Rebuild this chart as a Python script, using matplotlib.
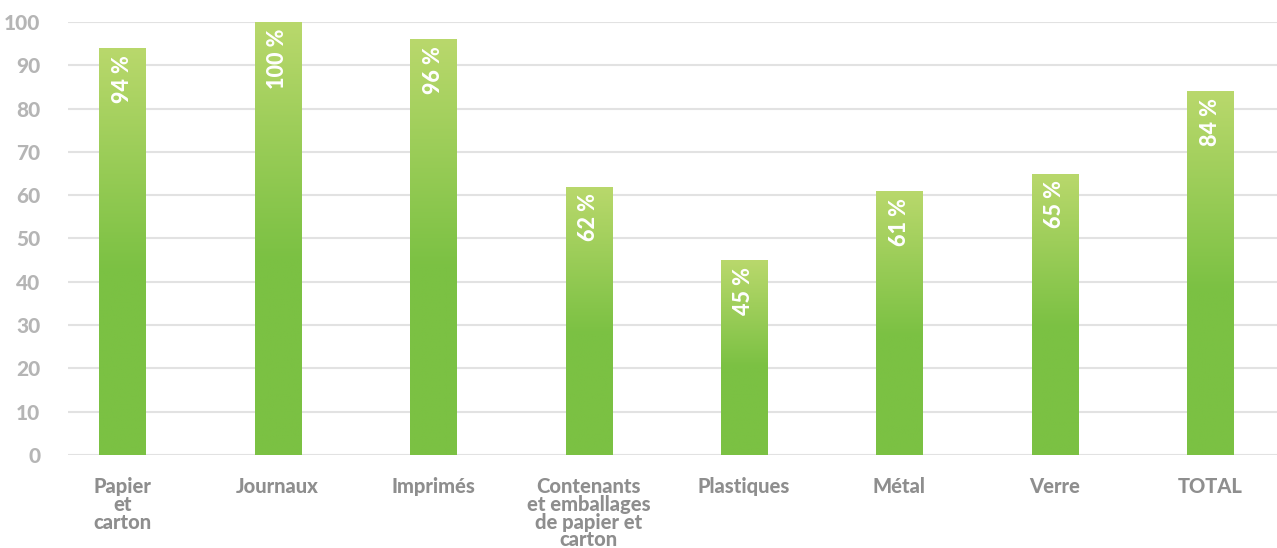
import numpy as np
import matplotlib.pyplot as plt
from matplotlib.colors import LinearSegmentedColormap

categories = ["Papier\net\ncarton", "Journaux", "Imprimés",
              "Contenants\net emballages\nde papier et\ncarton",
              "Plastiques", "Métal", "Verre", "TOTAL"]
values = [94, 100, 96, 62, 45, 61, 65, 84]
yticks = [0, 10, 20, 30, 40, 50, 60, 70, 80, 90, 100]

dark_green = "#7bc143"
light_green = "#b9d86c"

plt.rcParams["font.family"] = ["Lato", "DejaVu Sans"]

fig = plt.figure(figsize=(12.77, 5.48), dpi=100)
ax = fig.add_axes([0.0532, 0.1697, 0.9468, 0.7902])

x = np.arange(len(values))
width = 0.296

# vertical gradient: light at top fading to solid green lower down
green_cmap = LinearSegmentedColormap.from_list("g", [dark_green, light_green])
t = np.linspace(0, 1, 256)
ramp = np.clip((t - 0.45) / 0.55, 0, 1)
grad = np.vstack([ramp, ramp]).T

bars = ax.bar(x, values, width, color=dark_green, zorder=2, linewidth=0)
for b, xi, v in zip(bars, x, values):
    im = ax.imshow(grad, cmap=green_cmap,
                   extent=(xi - width / 2, xi + width / 2, 0, v), origin="lower",
                   aspect="auto", zorder=3, vmin=0, vmax=1, interpolation="bilinear")
    im.set_clip_path(b)
    ax.text(xi, v - 1.6, f"{v} %", rotation=90, ha="center", va="top",
            color="white", fontsize=15.5, fontweight="black", zorder=4)

ax.set_xlim(-0.35, 7.43)
ax.set_ylim(0, 100)
ax.set_yticks(yticks)
ax.set_xticks(x)
ax.set_xticklabels(categories, fontsize=14.5, fontweight="black", color="#8e8e8e",
                   linespacing=0.92, va="top")
ax.tick_params(axis="x", length=0, pad=16)
ax.tick_params(axis="y", length=0, pad=20, labelsize=15, labelcolor="#b5b5b5")
for lbl in ax.get_yticklabels():
    lbl.set_fontweight("black")

ax.grid(axis="y", color="#e2e2e2", linewidth=1.5, zorder=0)
ax.set_axisbelow(True)
for s in ax.spines.values():
    s.set_visible(False)

fig.savefig("out.png", dpi=100)
